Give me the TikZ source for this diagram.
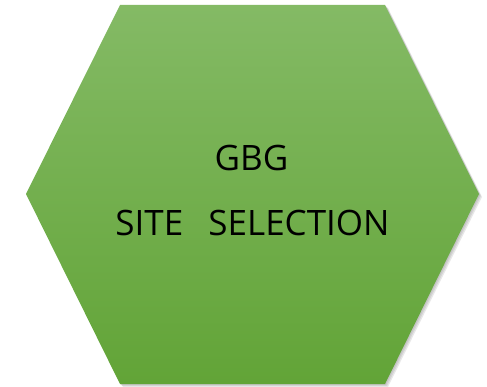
\documentclass[tikz,border=0pt]{standalone}
\usepackage{fontspec}
\setmainfont{Open Sans}
\usetikzlibrary{positioning}
\definecolor{hexTop}{HTML}{84BA65}
\definecolor{hexBot}{HTML}{62A437}
\definecolor{hexShade}{HTML}{6F6F6F}
\tikzset{
  hexfill/.style   ={top color=hexTop,bottom color=hexBot,draw=none},
  hexshadow/.style ={fill=hexShade,opacity=0.16,draw=none},
  title/.style     ={font=\fontsize{35}{42}\selectfont,text=black,inner sep=0pt},
}

\begin{document}
\begin{tikzpicture}[x=1pt,y=-1pt]
\useasboundingbox (0,0) rectangle (487,387);

% hexagon corners
\coordinate (tl) at (120,5);
\coordinate (tr) at (385,5);
\coordinate (rr) at (479,194);
\coordinate (br) at (385,384);
\coordinate (bl) at (120,384);
\coordinate (ll) at (26,194);

% soft shadow
\foreach \d in {1,2,3}
  \fill[hexshadow,transform canvas={shift={(\d pt,-\d pt)}}]
    (tl) -- (tr) -- (rr) -- (br) -- (bl) -- (ll) -- cycle;

% hexagon
\shade[hexfill] (tl) -- (tr) -- (rr) -- (br) -- (bl) -- (ll) -- cycle;

% label
\node[title,anchor=base] (gbg)  at (251.5,171) {GBG};
\node[title,anchor=base] (site) at (252.5,235.5) {SITE\hspace{0.72em}SELECTION};
\end{tikzpicture}
\end{document}
